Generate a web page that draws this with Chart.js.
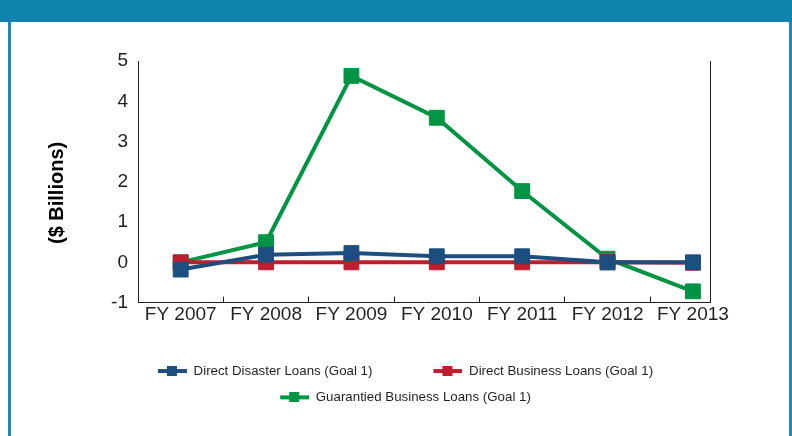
<!DOCTYPE html>
<html lang="en">
<head>
<meta charset="UTF-8">
<title>Loans by Fiscal Year</title>
<script src="https://cdn.jsdelivr.net/npm/chart.js"></script>
<style>
    html, body { margin: 0; padding: 0; background: #fff; }
    body { width: 792px; height: 436px; position: relative; overflow: hidden; }
    #top { position: absolute; left: 0; top: 0; width: 792px; height: 22px; background: #0f82ae; }
    #leftEdge { position: absolute; left: 8px; top: 22px; width: 3px; height: 414px; background: #1a8cc0; }
    #rightEdge { position: absolute; left: 789px; top: 22px; width: 3px; height: 414px; background: #1a8cc0; }
    #wrap { position: absolute; left: 11px; top: 22px; width: 778px; height: 414px; }
</style>
<script>
    // data ($ billions)
    const years = ['FY 2007', 'FY 2008', 'FY 2009', 'FY 2010', 'FY 2011', 'FY 2012', 'FY 2013'];
    const disasterLoans = [-0.18, 0.19, 0.23, 0.15, 0.15, 0.0, 0.0];
    const businessLoans = [0.0, 0.0, 0.0, 0.0, 0.0, 0.0, -0.01];
    const guarantiedLoans = [0.0, 0.5, 4.63, 3.59, 1.77, 0.09, -0.72];
    const yTicks = [-1, 0, 1, 2, 3, 4, 5];

    const seriesNames = ['Direct Disaster Loans (Goal 1)', 'Direct Business Loans (Goal 1)', 'Guarantied Business Loans (Goal 1)'];
    const seriesColors = ['#1c4f80', '#be1e2d', '#009444'];

    const textColor = '#231f20';

    // small line + square marker for the legend
    function legendMark(color) {
        const c = document.createElement('canvas');
        c.width = 77;
        c.height = 10;
        const g = c.getContext('2d');
        g.fillStyle = color;
        g.fillRect(48, 3, 29, 4);
        g.fillRect(57, 0, 10, 10);
        return c;
    }

    function toPoints(values) {
        return values.map((v, i) => ({ x: i, y: v }));
    }

    function makeDataset(i, values) {
        return {
            label: seriesNames[i],
            data: toPoints(values),
            borderColor: seriesColors[i],
            backgroundColor: seriesColors[i],
            borderWidth: 4,
            pointStyle: 'rect',
            pointRadius: 10.5,
            pointBorderWidth: 1,
            pointHoverRadius: 10.5,
            tension: 0
        };
    }

    document.addEventListener('DOMContentLoaded', () => {
        const ctx = document.getElementById('myChart').getContext('2d');
        new Chart(ctx, {
            type: 'line',
            data: {
                datasets: [
                    makeDataset(0, disasterLoans),
                    makeDataset(1, businessLoans),
                    makeDataset(2, guarantiedLoans)
                ]
            },
            options: {
                responsive: true,
                maintainAspectRatio: false,
                animation: false,
                layout: {
                    padding: { left: 42, right: 79, top: 39, bottom: 22 }
                },
                plugins: {
                    tooltip: { enabled: false },
                    legend: {
                        position: 'bottom',
                        labels: {
                            usePointStyle: true,
                            pointStyleWidth: 77,
                            padding: 13,
                            color: textColor,
                            font: { family: 'Liberation Sans', size: 13.3 },
                            generateLabels: (chart) => {
                                const items = Chart.defaults.plugins.legend.labels.generateLabels(chart);
                                items.forEach((it, i) => { it.pointStyle = legendMark(seriesColors[i]); });
                                return items;
                            }
                        }
                    }
                },
                scales: {
                    x: {
                        type: 'linear',
                        min: -0.5,
                        max: 6.2,
                        grid: {
                            offset: true,
                            drawOnChartArea: false,
                            tickLength: -6,
                            color: textColor,
                            lineWidth: 1
                        },
                        border: { color: textColor, width: 1 },
                        ticks: {
                            stepSize: 1,
                            includeBounds: false,
                            autoSkip: false,
                            maxRotation: 0,
                            padding: 7,
                            color: textColor,
                            font: { family: 'Liberation Sans', size: 19 },
                            callback: (v) => years[v]
                        },
                        // leave room between the year labels and the legend
                        afterFit: (scale) => { scale.height += 18; }
                    },
                    y: {
                        min: yTicks[0],
                        max: yTicks[yTicks.length - 1],
                        grid: { drawOnChartArea: false, drawTicks: false },
                        border: { color: textColor, width: 1 },
                        ticks: {
                            stepSize: 1,
                            padding: 10,
                            color: textColor,
                            font: { family: 'Liberation Sans', size: 19 }
                        },
                        title: {
                            display: true,
                            text: '($ Billions)    ',
                            color: '#000',
                            font: { family: 'Liberation Sans', size: 20, weight: 'bold', lineHeight: 1 },
                            padding: { top: -6, bottom: 0 }
                        },
                        afterFit: (scale) => { scale.width = 85; }
                    },
                    y1: {
                        position: 'right',
                        min: 0,
                        max: 1,
                        grid: { drawOnChartArea: false, drawTicks: false },
                        border: { color: textColor, width: 1 },
                        ticks: { display: false },
                        afterFit: (scale) => { scale.width = 0; }
                    }
                }
            }
        });
    });
</script>
</head>
<body>
    <div id="top"></div>
    <div id="leftEdge"></div>
    <div id="rightEdge"></div>
    <div id="wrap"><canvas id="myChart"></canvas></div>
</body>
</html>
